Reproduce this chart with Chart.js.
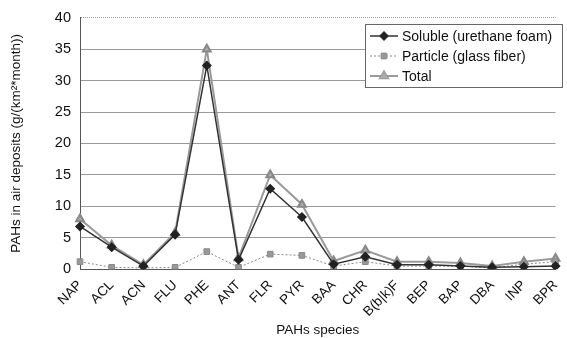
<!DOCTYPE html>
<html>
<head>
<meta charset="utf-8">
<script src="https://cdn.jsdelivr.net/npm/chart.js@4"></script>
<style>
  html, body { margin: 0; padding: 0; background: #fff; }
  #wrap { width: 567px; height: 338px; }
</style>
</head>
<body>
<div id="wrap"><canvas id="chart" width="567" height="338"></canvas></div>
<script>
// Data
const species = ["NAP", "ACL", "ACN", "FLU", "PHE", "ANT", "FLR", "PYR", "BAA", "CHR", "B(b|k)F", "BEP", "BAP", "DBA", "INP", "BPR"];
const soluble  = [6.8, 3.5, 0.5, 5.5, 32.4, 1.5, 12.8, 8.3, 0.8, 2.0, 0.7, 0.7, 0.5, 0.3, 0.4, 0.5];
const particle = [1.2, 0.3, 0.2, 0.3, 2.8, 0.3, 2.4, 2.2, 0.5, 1.2, 0.5, 0.5, 0.5, 0.2, 0.8, 1.2];
const total    = [8.0, 3.8, 0.7, 5.8, 35.0, 1.8, 15.0, 10.3, 1.3, 3.0, 1.2, 1.2, 1.0, 0.5, 1.2, 1.7];
const yTicks = [0, 5, 10, 15, 20, 25, 30, 35, 40];

const FONT = "'Liberation Sans', Arial, sans-serif";

// legend drawn inside the plot, like the original
const insideLegend = {
  id: "insideLegend",
  afterDraw(chart) {
    const ctx = chart.ctx;
    const x = 365, y = 24, w = 197, h = 63;
    ctx.save();
    ctx.fillStyle = "#fff";
    ctx.fillRect(x, y, w, h);
    ctx.strokeStyle = "#666";
    ctx.lineWidth = 1;
    ctx.strokeRect(x + 0.5, y + 0.5, w, h);
    ctx.font = "14px " + FONT;
    ctx.textBaseline = "middle";
    chart.data.datasets.forEach((ds, i) => {
      const ry = y + 12 + i * 20;
      ctx.strokeStyle = ds.borderColor;
      ctx.lineWidth = ds.borderWidth;
      ctx.setLineDash(ds.borderDash || []);
      ctx.beginPath();
      ctx.moveTo(x + 5, ry);
      ctx.lineTo(x + 33, ry);
      ctx.stroke();
      ctx.setLineDash([]);
      Chart.helpers.drawPoint(ctx, {
        pointStyle: ds.pointStyle,
        radius: ds.pointRadius,
        borderWidth: 1
      }, x + 19, ry);
      ctx.fillStyle = ds.pointBackgroundColor;
      ctx.strokeStyle = ds.pointBorderColor;
      ctx.fill();
      ctx.fillStyle = "#111";
      ctx.fillText(ds.label, x + 37, ry + 1);
    });
    ctx.restore();
  }
};

new Chart(document.getElementById("chart"), {
  type: "line",
  data: {
    labels: species,
    datasets: [
      {
        label: "Soluble (urethane foam)",
        data: soluble,
        borderColor: "#333",
        borderWidth: 1.5,
        pointStyle: "rectRot",
        pointRadius: 4,
        pointBackgroundColor: "#222",
        pointBorderColor: "#222"
      },
      {
        label: "Particle (glass fiber)",
        data: particle,
        borderColor: "#888",
        borderWidth: 1,
        borderDash: [2, 2],
        pointStyle: "rect",
        pointRadius: 4,
        pointBackgroundColor: "#999",
        pointBorderColor: "#888"
      },
      {
        label: "Total",
        data: total,
        borderColor: "#9a9a9a",
        borderWidth: 2,
        pointStyle: "triangle",
        pointRadius: 4.5,
        pointBackgroundColor: "#aaa",
        pointBorderColor: "#888"
      }
    ]
  },
  options: {
    responsive: false,
    animation: false,
    layout: { padding: { top: 12, right: 0, left: 4, bottom: 0 } },
    plugins: {
      legend: { display: false },
      tooltip: { enabled: false }
    },
    scales: {
      x: {
        offset: false,
        grid: { display: false },
        border: { display: true, color: "#555" },
        ticks: {
          color: "#111",
          font: { family: FONT, size: 13.5 },
          minRotation: 45,
          maxRotation: 45,
          autoSkip: false,
          padding: 0
        },
        title: {
          display: true,
          text: "PAHs species",
          color: "#111",
          font: { family: FONT, size: 13.5 },
          padding: { top: 2, bottom: 0 }
        }
      },
      y: {
        min: 0,
        max: 40,
        afterBuildTicks: (axis) => { axis.ticks = yTicks.map(v => ({ value: v })); },
        afterFit: (axis) => { axis.width = 76; },
        grid: {
          color: "#999",
          drawTicks: false
        },
        border: {
          display: true,
          color: "#555",
          dash: (c) => (c.tick && c.tick.value === 40 ? [1, 1] : [])
        },
        ticks: {
          color: "#111",
          font: { family: FONT, size: 14.5 },
          padding: 9
        },
        title: {
          display: true,
          text: "PAHs in air deposits (g/(km²*month))",
          color: "#111",
          font: { family: FONT, size: 13.5 },
          padding: { bottom: 5 }
        }
      }
    }
  },
  plugins: [insideLegend]
});
</script>
</body>
</html>
